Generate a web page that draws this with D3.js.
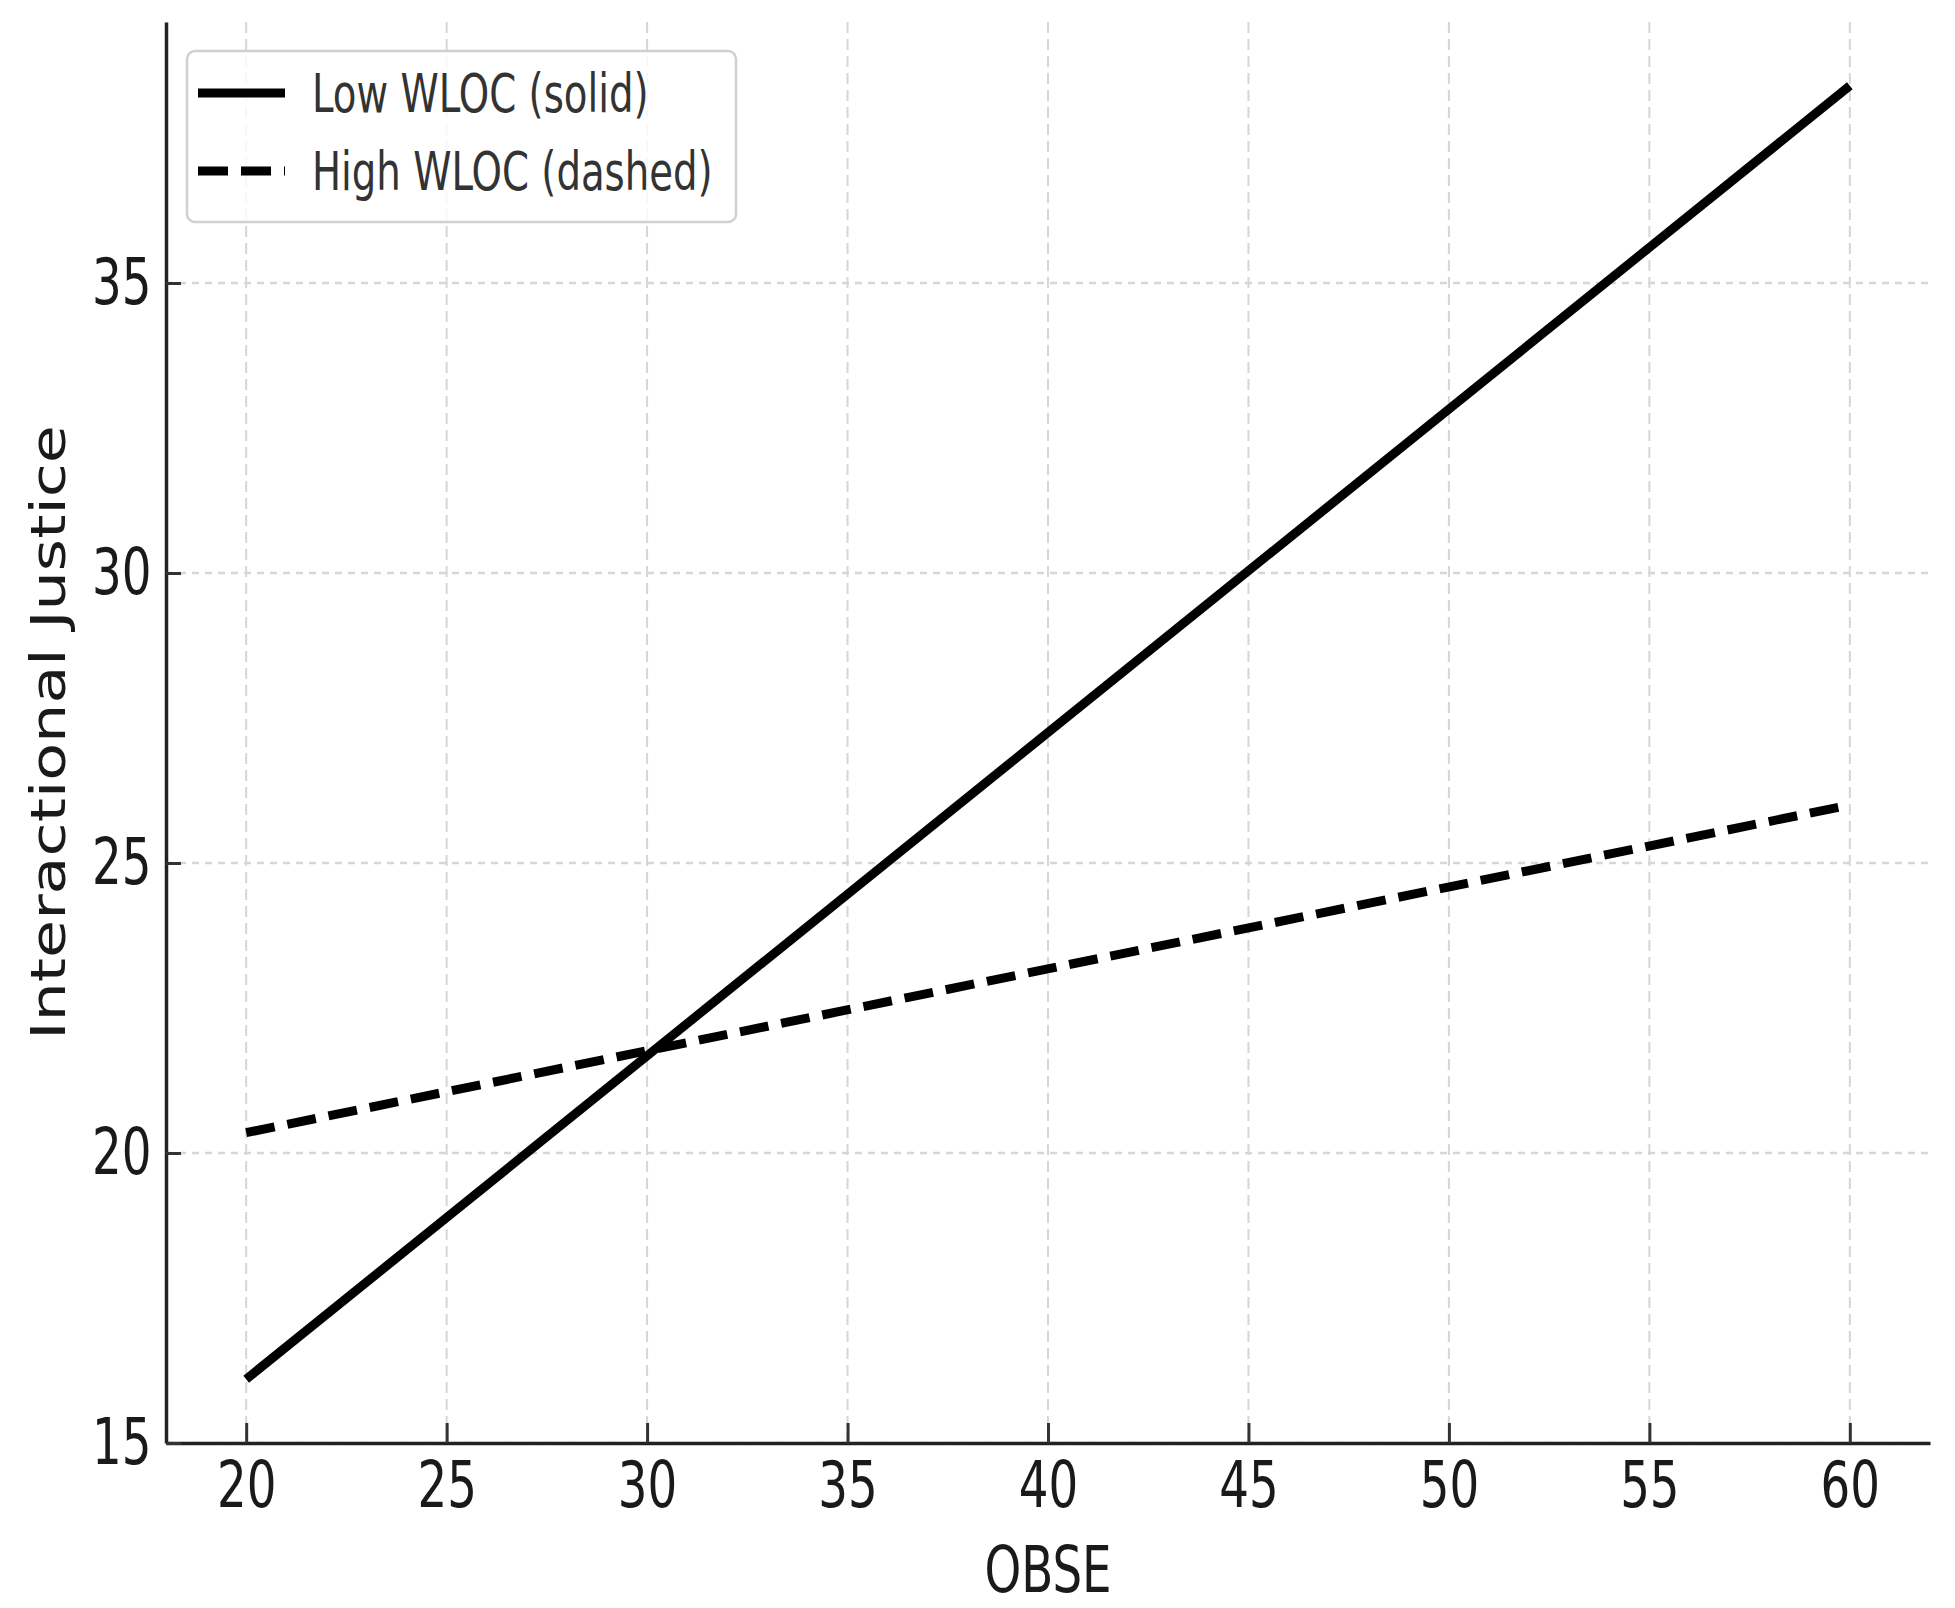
<!DOCTYPE html>
<html>
<head>
<meta charset="utf-8">
<script src="https://cdn.jsdelivr.net/npm/d3@7"></script>
<style>
	body { margin: 0; background: #fff; }
	svg { display: block; }
</style>
</head>
<body>
<div id="chart"></div>
<script>
// Data
const obse = [20, 60];
const lowWloc = [16.1, 38.4];
const highWloc = [20.35, 26.0];
const xTicks = [20, 25, 30, 35, 40, 45, 50, 55, 60];
const yTicks = [15, 20, 25, 30, 35];
const seriesNames = ["Low WLOC (solid)", "High WLOC (dashed)"];

const width = 1955, height = 1608;
const margin = {top: 22, right: 25, bottom: 165, left: 166};
// text in the source picture is squeezed sideways
const squeeze = 0.73;
const font = "'DejaVu Sans', sans-serif";

const svg = d3.select("#chart").append("svg")
	.attr("width", width)
	.attr("height", height);

const x = d3.scaleLinear().domain([18, 62]).range([margin.left, width - margin.right]);
const y = d3.scaleLinear().domain([15, 39.5]).range([height - margin.bottom, margin.top]);

// Grid
svg.append("g").attr("class", "grid-x")
	.selectAll("line").data(xTicks).join("line")
	.attr("x1", d => x(d)).attr("x2", d => x(d))
	.attr("y1", y.range()[1]).attr("y2", y.range()[0])
	.attr("stroke", "#d6d6d6")
	.attr("stroke-width", 2)
	.attr("stroke-dasharray", "11 6");

svg.append("g").attr("class", "grid-y")
	.selectAll("line").data(yTicks).join("line")
	.attr("x1", x.range()[0]).attr("x2", x.range()[1])
	.attr("y1", d => y(d)).attr("y2", d => y(d))
	.attr("stroke", "#d6d6d6")
	.attr("stroke-width", 2.5)
	.attr("stroke-dasharray", "7 6");

// Axes
const xAxisGroup = svg.append("g")
	.attr("transform", `translate(0,${y.range()[0]})`)
	.call(d3.axisBottom(x).tickValues(xTicks).tickSizeInner(-20).tickSizeOuter(0).tickPadding(19));

const yAxisGroup = svg.append("g")
	.attr("transform", `translate(${x.range()[0]},0)`)
	.call(d3.axisLeft(y).tickValues(yTicks).tickSizeInner(-15).tickSizeOuter(0).tickPadding(20));

[xAxisGroup, yAxisGroup].forEach(g => {
	g.attr("font-family", font).attr("font-size", 64);
	g.select(".domain").attr("stroke", "#222").attr("stroke-width", 3.5);
	g.selectAll(".tick line").attr("stroke", "#333").attr("stroke-width", 3);
	g.selectAll(".tick text")
		.attr("fill", "#1a1a1a")
		.attr("transform", `scale(${squeeze},1)`);
});

// Axis labels
svg.append("text")
	.attr("transform", `translate(${(x.range()[0] + x.range()[1]) / 2},1592) scale(${squeeze},1)`)
	.attr("text-anchor", "middle")
	.attr("font-family", font)
	.attr("font-size", 64)
	.attr("fill", "#1a1a1a")
	.text("OBSE");

svg.append("text")
	.attr("transform", `translate(65,${(y.range()[0] + y.range()[1]) / 2}) scale(0.78,1) rotate(-90)`)
	.attr("text-anchor", "middle")
	.attr("font-family", font)
	.attr("font-size", 62)
	.attr("fill", "#1a1a1a")
	.text("Interactional Justice");

// Lines
const line = d3.line().x(d => x(d[0])).y(d => y(d[1]));

svg.append("path")
	.datum(d3.zip(obse, lowWloc))
	.attr("d", line)
	.attr("fill", "none")
	.attr("stroke", "#000")
	.attr("stroke-width", 9);

svg.append("path")
	.datum(d3.zip(obse, highWloc))
	.attr("d", line)
	.attr("fill", "none")
	.attr("stroke", "#000")
	.attr("stroke-width", 9)
	.attr("stroke-dasharray", "29 13");

// Legend
const legend = svg.append("g").attr("class", "legend");

legend.append("rect")
	.attr("x", 187).attr("y", 51)
	.attr("width", 549).attr("height", 171)
	.attr("rx", 8)
	.attr("fill", "#fff").attr("fill-opacity", 0.8)
	.attr("stroke", "#d0d0d0").attr("stroke-width", 2.5);

const dashes = [null, "30 13"];
seriesNames.forEach((name, i) => {
	const rowY = 93 + i * 78;
	legend.append("line")
		.attr("x1", 198).attr("x2", 285)
		.attr("y1", rowY).attr("y2", rowY)
		.attr("stroke", "#000")
		.attr("stroke-width", 9)
		.attr("stroke-dasharray", dashes[i]);

	legend.append("text")
		.attr("transform", `translate(312,${rowY + 19}) scale(${squeeze},1)`)
		.attr("font-family", font)
		.attr("font-size", 53)
		.attr("fill", "#333")
		.text(name);
});
</script>
</body>
</html>
